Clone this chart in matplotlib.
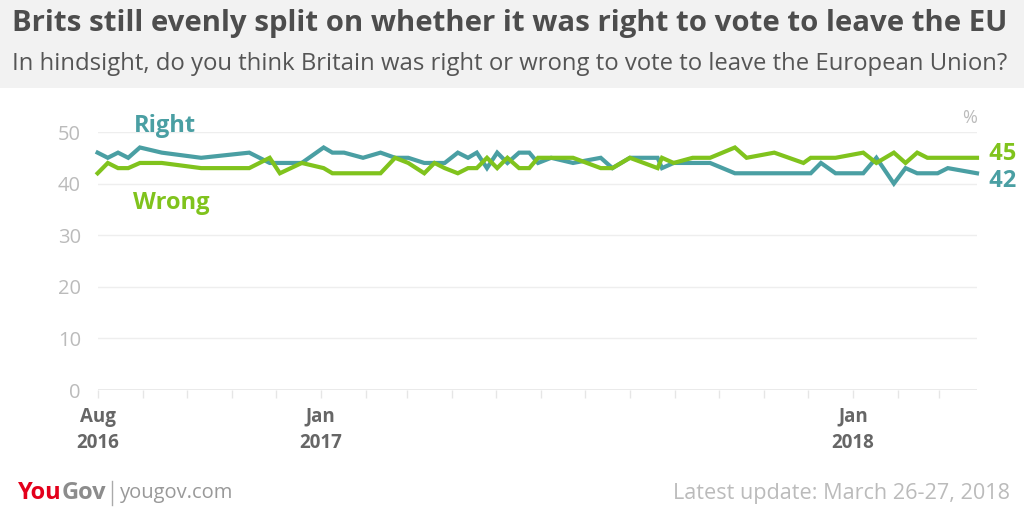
import matplotlib
matplotlib.use("Agg")
import matplotlib.pyplot as plt
import matplotlib.dates as mdates
import pandas as pd
from matplotlib.patches import Rectangle

# ---- data ----
dates = ["2016-08-01", "2016-08-08", "2016-08-15", "2016-08-22", "2016-08-30",
         "2016-09-14", "2016-10-11", "2016-11-13", "2016-11-27", "2016-12-04",
         "2016-12-19", "2017-01-03", "2017-01-09", "2017-01-17", "2017-01-30",
         "2017-02-11", "2017-02-21", "2017-03-02", "2017-03-13", "2017-03-20",
         "2017-03-27", "2017-04-05", "2017-04-12", "2017-04-18", "2017-04-25",
         "2017-05-02", "2017-05-09", "2017-05-17", "2017-05-24", "2017-05-30",
         "2017-06-08", "2017-06-23", "2017-07-12", "2017-07-20", "2017-08-01",
         "2017-08-20", "2017-08-23", "2017-08-31", "2017-09-13", "2017-09-25",
         "2017-10-12", "2017-10-20", "2017-11-08", "2017-11-28", "2017-12-03",
         "2017-12-10", "2017-12-20", "2018-01-08", "2018-01-17", "2018-01-29",
         "2018-02-06", "2018-02-14", "2018-02-21", "2018-02-28", "2018-03-07",
         "2018-03-27"]
right = [46, 45, 46, 45, 47, 46, 45, 46, 44, 44,
         44, 47, 46, 46, 45, 46, 45, 45, 44, 44,
         44, 46, 45, 46, 43, 46, 44, 46, 46, 44,
         45, 44, 45, 43, 45, 45, 43, 44, 44, 44,
         42, 42, 42, 42, 42, 44, 42, 42, 45, 40,
         43, 42, 42, 42, 43, 42]
wrong = [42, 44, 43, 43, 44, 44, 43, 43, 45, 42,
         44, 43, 42, 42, 42, 42, 45, 44, 42, 44,
         43, 42, 43, 43, 45, 43, 45, 43, 43, 45,
         45, 45, 43, 43, 45, 43, 45, 44, 45, 45,
         47, 45, 46, 44, 45, 45, 45, 46, 44, 46,
         44, 46, 45, 45, 45, 45]
yticks = [0, 10, 20, 30, 40, 50]
xlabel_dates = ["2016-08-01", "2017-01-01", "2018-01-01"]
xlabels = ["Aug\n2016", "Jan\n2017", "Jan\n2018"]

title = "Brits still evenly split on whether it was right to vote to leave the EU"
subtitle = "In hindsight, do you think Britain was right or wrong to vote to leave the European Union?"

TEAL = "#4a9fa3"
GREEN = "#80c31d"
GRAY_T = "#4d4d4d"

d = pd.to_datetime(dates)

W, H = 1024, 512
fig = plt.figure(figsize=(W / 100, H / 100), dpi=100)
fig.patch.set_facecolor("white")

def fx(x):
    return x / W

def fy(y):
    return 1 - y / H

# header band
fig.patches.append(Rectangle((0, fy(88)), 1, 88 / H, transform=fig.transFigure,
                             facecolor="#f2f2f2", edgecolor="none", zorder=0))
fig.text(fx(12), fy(23), title, fontsize=21.15, fontweight="bold", color=GRAY_T,
         family="Open Sans", va="center", ha="left")
fig.text(fx(12), fy(64), subtitle, fontsize=17.2, color="#555555",
         family="Open Sans", va="center", ha="left")

ax = fig.add_axes([fx(97.6), fy(390), fx(977) - fx(97.6), (390 - 132) / H])
ax.set_facecolor("none")
ax.plot(d, right, color=TEAL, lw=3.0, solid_joinstyle="miter", zorder=3, clip_on=False)
ax.plot(d, wrong, color=GREEN, lw=3.0, solid_joinstyle="miter", zorder=4, clip_on=False)

x0 = pd.Timestamp("2016-08-01")
x1 = pd.Timestamp("2018-03-27")
ax.set_xlim(x0, x1)
ax.set_ylim(0, 50)
for s in ax.spines.values():
    s.set_visible(False)
ax.set_yticks(yticks)
ax.set_yticklabels([str(v) for v in yticks])
ax.tick_params(axis="y", length=0, pad=12, labelsize=14.5, labelcolor="#bbbbbb")
for lab in ax.get_yticklabels():
    lab.set_family("Open Sans")
for v in yticks[1:]:
    ax.axhline(v, color="#eeeeee", lw=1, zorder=1)
ax.axhline(0, color="#e6e6e6", lw=1.2, zorder=1)

ax.set_xticks(pd.to_datetime(xlabel_dates), minor=False)
ax.xaxis.set_minor_locator(mdates.MonthLocator())
ax.set_xticklabels(xlabels)
ax.tick_params(axis="x", which="both", length=6, width=1, color="#e6e6e6",
               direction="out", pad=6, labelsize=13.5, labelcolor="#666666")
for lab in ax.get_xticklabels():
    lab.set_family("Open Sans")
    lab.set_fontweight("bold")
    lab.set_linespacing(1.45)

# series labels
ax.text(pd.Timestamp("2016-08-26"), 51.2, "Right", color=TEAL, fontsize=17,
        fontweight="bold", family="Open Sans", va="center", ha="left", clip_on=False)
ax.text(pd.Timestamp("2016-08-25"), 36.2, "Wrong", color=GREEN, fontsize=17,
        fontweight="bold", family="Open Sans", va="center", ha="left", clip_on=False)
ax.text(1.0, 52.8, "%", transform=ax.get_yaxis_transform(), color="#bbbbbb",
        fontsize=13, family="Open Sans", va="center", ha="right")
ax.text(d[-1], wrong[-1] + 0.7, "  " + str(wrong[-1]), color=GREEN, fontsize=17,
        fontweight="bold", family="Open Sans", va="center", ha="left", clip_on=False)
ax.text(d[-1], right[-1] - 1.4, "  " + str(right[-1]), color=TEAL, fontsize=17,
        fontweight="bold", family="Open Sans", va="center", ha="left", clip_on=False)

# footer
t1 = fig.text(fx(18), fy(493), "You", color="#e3001b", fontsize=17, fontweight="bold",
              family="Open Sans", va="center", ha="left")
fig.canvas.draw()
bb = t1.get_window_extent()
t2 = fig.text(bb.x1 / W, fy(493), "Gov", color="#8c8c8c", fontsize=17, fontweight="bold",
              family="Open Sans", va="center", ha="left")
fig.canvas.draw()
bb2 = t2.get_window_extent()
fig.lines.append(plt.Line2D([bb2.x1 / W + 0.006] * 2, [fy(481), fy(505)],
                            transform=fig.transFigure, color="#aaaaaa", lw=1))
fig.text(bb2.x1 / W + 0.013, fy(493), "yougov.com", color="#999999", fontsize=14.5,
         family="Open Sans", va="center", ha="left")
fig.text(fx(1010), fy(493), "Latest update: March 26-27, 2018", color="#bbbbbb",
         fontsize=15.6, family="Open Sans", va="center", ha="right")

fig.savefig("out.png", dpi=100, facecolor="white")
